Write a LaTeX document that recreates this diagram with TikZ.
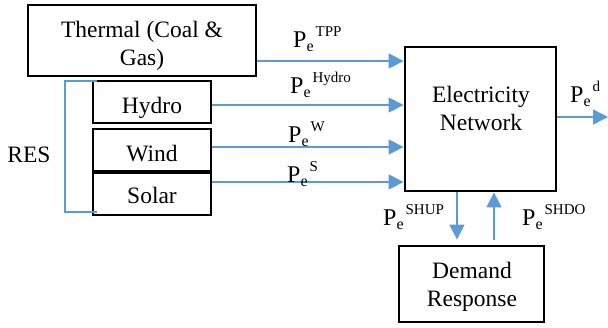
\documentclass[tikz,border=0pt]{standalone}
\usepackage{fontspec}
\setmainfont{Liberation Serif}
\usetikzlibrary{arrows.meta}
\definecolor{flowblue}{HTML}{5B9BD5}
\newcommand\pelabel[1]{P\raisebox{-4pt}{\fontsize{16}{16}\selectfont e}\hspace{2pt}\raisebox{11pt}{\fontsize{15}{15}\selectfont #1}}
\begin{document}
\begin{tikzpicture}[x=1pt,y=-1pt,
  box/.style={draw, line width=2.8pt, inner sep=0pt},
  flow/.style={draw=flowblue, line width=1.4pt, -{Triangle[length=15pt,width=15pt]}},
  bracketline/.style={draw=flowblue, line width=1.6pt},
  txt/.style={font=\fontsize{23.5}{28}\selectfont, align=center, inner sep=0pt, anchor=base},
  lbl/.style={font=\fontsize{24}{28}\selectfont, inner sep=0pt, anchor=base west}]
\useasboundingbox (0,0) rectangle (608,327);
% boxes
\node[box, minimum width=228pt, minimum height=71pt] (thermal) at (142,40.5) {};
\node[box, minimum width=118pt, minimum height=42pt] (hydro) at (152,102) {};
\node[box, minimum width=118pt, minimum height=42pt] (wind) at (152,150) {};
\node[box, minimum width=118pt, minimum height=42pt] (solar) at (152,194) {};
\node[box, minimum width=151pt, minimum height=144pt] (network) at (480.5,119) {};
\node[box, minimum width=145pt, minimum height=76pt] (demand) at (471.5,284) {};
% box texts (base anchor = last line baseline)
\node[txt] (thermaltxt) at (142,65) {Thermal (Coal \&\\Gas)};
\node[txt] (hydrotxt) at (152,113) {Hydro};
\node[txt] (windtxt) at (152,161) {Wind};
\node[txt] (solartxt) at (152,203) {Solar};
\node[txt] (networktxt) at (481,130) {Electricity\\Network};
\node[txt] (demandtxt) at (472,306) {Demand\\Response};
\node[txt] (res) at (29,162) {RES};
% RES bracket
\coordinate (bt) at (65,81);
\coordinate (bb) at (65,212);
\draw[bracketline] ([xshift=5pt]hydro.north west |- bt) -- (bt) -- (bb) -- ([xshift=5pt]solar.south west |- bb);
% flow levels
\coordinate (yTPP) at (0,61);
\coordinate (yH) at (0,105);
\coordinate (yW) at (0,147);
\coordinate (yS) at (0,182);
\coordinate (yD) at (0,117);
\coordinate (outend) at (608,117);
\coordinate (xUP) at (457,0);
\coordinate (xDO) at (494,0);
% connectors
\draw[flow] (thermal.east |- yTPP) -- (network.west |- yTPP);
\draw[flow] (hydro.east |- yH) -- (network.west |- yH);
\draw[flow] (wind.east |- yW) -- (network.west |- yW);
\draw[flow] (solar.east |- yS) -- (network.west |- yS);
\draw[flow] (network.east |- yD) -- (outend);
\draw[flow, shorten >=5pt] (network.south -| xUP) -- (demand.north -| xUP);
\draw[flow, shorten <=5pt] (demand.north -| xDO) -- (network.south -| xDO);
% labels
\node[lbl] (lTPP) at (293,47) {\pelabel{TPP}};
\node[lbl] (lH) at (290,93) {\pelabel{Hydro}};
\node[lbl] (lW) at (288,142) {\pelabel{W}};
\node[lbl] (lS) at (287,182) {\pelabel{S}};
\node[lbl] (lD) at (570,102) {\pelabel{d}};
\node[lbl] (lUP) at (383,225) {\pelabel{SHUP}};
\node[lbl] (lDO) at (522,225) {\pelabel{SHDO}};
\end{tikzpicture}
\end{document}
